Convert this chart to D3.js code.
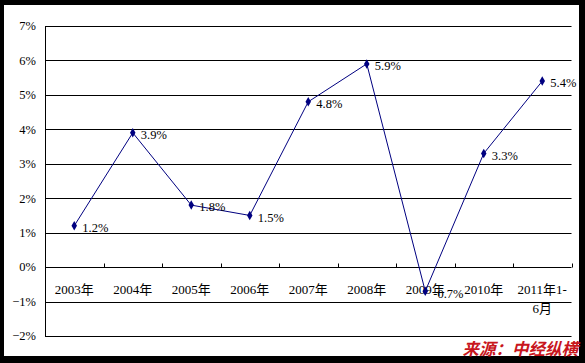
<!DOCTYPE html>
<html><head><meta charset="utf-8">
<script src="https://cdn.jsdelivr.net/npm/d3@7"></script>
<style>body{margin:0;background:#fff}svg{display:block}</style>
</head><body>
<svg id="c" width="585" height="363"></svg>
<script>
const categories = ["2003年","2004年","2005年","2006年","2007年","2008年","2009年","2010年","2011年1-|6月"];
const values = [1.2, 3.9, 1.8, 1.5, 4.8, 5.9, -0.7, 3.3, 5.4];
const yTicks = [-2,-1,0,1,2,3,4,5,6,7];
const sourceText = "来源：中经纵横";

(function(){
const svg = d3.select("#c");
const font = "'Liberation Serif','Noto Sans CJK SC',serif";
// frame
svg.append("rect").attr("x",0).attr("y",0).attr("width",585).attr("height",363).attr("fill","#000");
svg.append("rect").attr("x",4).attr("y",5).attr("width",575).attr("height",351).attr("fill","#fff");

const pl=45, pr=571.5, pt=26, pb=336;
const x = d3.scaleBand().domain(categories).range([pl,pr]).padding(0);
const y = d3.scaleLinear().domain([-2,7]).range([pb,pt]);

// gridlines
svg.append("g").selectAll("line").data(yTicks).join("line")
  .attr("x1",pl).attr("x2",pr)
  .attr("y1",d=>Math.round(y(d))+0.5).attr("y2",d=>Math.round(y(d))+0.5)
  .attr("stroke","#000").attr("stroke-width",1);
// y axis line
svg.append("line").attr("x1",pl+0.5).attr("x2",pl+0.5).attr("y1",pt).attr("y2",pb+0.5)
  .attr("stroke","#000");
// y labels
svg.append("g").selectAll("text").data(yTicks).join("text")
  .attr("x",36).attr("y",d=>y(d)).attr("dy","0.35em").attr("text-anchor","end")
  .attr("font-family",font).attr("font-size",12.5).text(d=>(d<0?"\u2212"+(-d):d)+"%");

// tick marks on 0 line (category boundaries, pointing up)
const y0 = Math.round(y(0))+0.5;
const bounds = categories.map(c=>x(c)).slice(1).concat([pr]);
svg.append("g").selectAll("line").data(bounds).join("line")
  .attr("x1",d=>Math.round(d)+0.5).attr("x2",d=>Math.round(d)+0.5)
  .attr("y1",y0-4).attr("y2",y0).attr("stroke","#000");

// x labels
const xl = svg.append("g").selectAll("text").data(categories).join("text")
  .attr("x",d=>x(d)+x.bandwidth()/2).attr("y",y0+26)
  .attr("text-anchor","middle").attr("font-family",font).attr("font-size",13);
xl.each(function(d){
  const parts=d.split("|");
  const t=d3.select(this);
  parts.forEach((p,i)=>t.append("tspan").attr("x",x(d)+x.bandwidth()/2).attr("dy",i?19:0).text(p));
});

// line
const cx = (d,i)=>x(categories[i])+x.bandwidth()/2;
const line = d3.line().x((d,i)=>cx(d,i)).y(d=>y(d));
svg.append("path").datum(values).attr("d",line).attr("fill","none").attr("stroke","#000080").attr("stroke-width",1);
// markers
svg.append("g").selectAll("path").data(values).join("path")
  .attr("d",d3.symbol().type(d3.symbolDiamond).size(26))
  .attr("transform",(d,i)=>`translate(${cx(d,i)},${y(d)})`).attr("fill","#000080");
// value labels
svg.append("g").selectAll("text").data(values).join("text")
  .attr("x",(d,i)=>cx(d,i)+8).attr("y",d=>y(d)+2).attr("dy","0.35em")
  .attr("font-family",font).attr("font-size",12.5).text(d=>d.toFixed(1)+"%");

// source
svg.append("text").attr("x",578).attr("y",355).attr("text-anchor","end")
  .attr("font-family","'Noto Sans CJK SC',sans-serif").attr("font-weight","bold").attr("font-style","italic")
  .attr("font-size",16.5).attr("fill","#c8161d").text(sourceText);
})();
</script>
</body></html>
